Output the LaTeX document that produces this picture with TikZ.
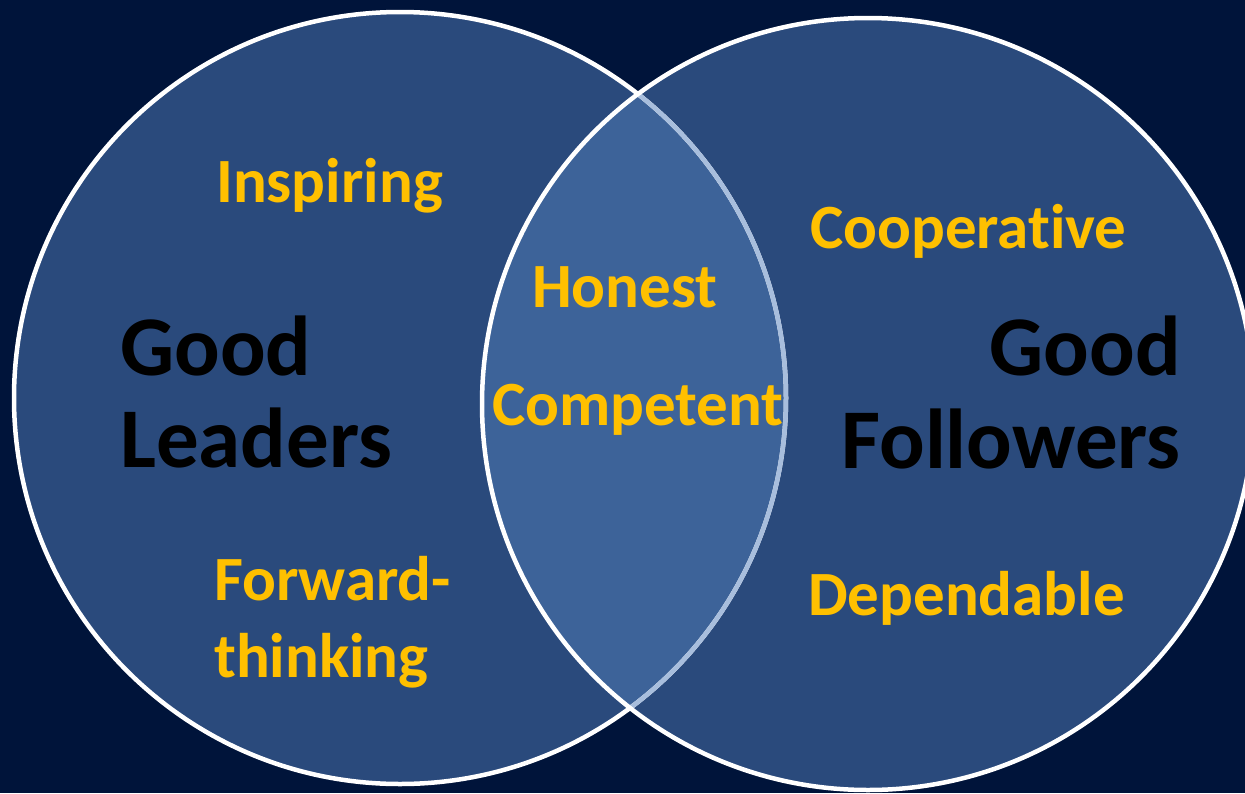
\documentclass[tikz,border=0pt]{standalone}
\usepackage{fontspec}
\setmainfont[Ligatures={NoCommon}]{Carlito}
\definecolor{bgnavy}{HTML}{00143A}
\definecolor{circfill}{HTML}{2A4A7C}
\definecolor{lensfill}{HTML}{3D6399}
\definecolor{lensline}{HTML}{A8BEDD}
\definecolor{goldtxt}{HTML}{FFC000}
\begin{document}
\begin{tikzpicture}[x=1pt,y=-1pt,
  trait/.style={text=goldtxt,font=\bfseries\fontsize{63}{63}\selectfont,inner sep=0pt},
  group/.style={text=black,font=\bfseries\fontsize{85}{85}\selectfont,inner sep=0pt},
  rim/.style={white,line width=4.5pt}]
  % background
  \fill[bgnavy] (0,0) rectangle (1245,793);
  \useasboundingbox (0,0) rectangle (1245,793);
  % circle centres
  \coordinate (L) at (400,398);
  \coordinate (R) at (868,404);
  % fills
  \fill[circfill] (L) circle[radius=386pt];
  \fill[circfill] (R) circle[radius=386pt];
  \begin{scope}
    \clip (L) circle[radius=386pt];
    \fill[lensfill] (R) circle[radius=386pt];
  \end{scope}
  % outlines
  \draw[rim] (L) circle[radius=386pt];
  \begin{scope}
    \clip (R) circle[radius=386pt];
    \draw[lensline,line width=4.5pt] (L) circle[radius=386pt];
  \end{scope}
  \draw[rim] (R) circle[radius=386pt];
  % left set
  \node[trait,anchor=base west] (inspiring) at (216,202) {Inspiring};
  \node[group,anchor=base west] (goodL) at (120,375) {Good};
  \node[group,anchor=base west] (leaders) at (120,467) {Leaders};
  \node[trait,anchor=base west] (forward) at (214,600) {Forward-};
  \node[trait,anchor=base west] (thinking) at (214,677) {thinking};
  % overlap
  \node[trait,anchor=base west] (honest) at (532,307) {Honest};
  \node[trait,anchor=base west] (competent) at (492,425) {Competent};
  % right set
  \node[trait,anchor=base west] (cooperative) at (810,248) {Cooperative};
  \node[group,anchor=base east] (goodR) at (1181,375) {Good};
  \node[group,anchor=base east] (followers) at (1181,468) {Followers};
  \node[trait,anchor=base west] (dependable) at (808,615) {Dependable};
\end{tikzpicture}
\end{document}
